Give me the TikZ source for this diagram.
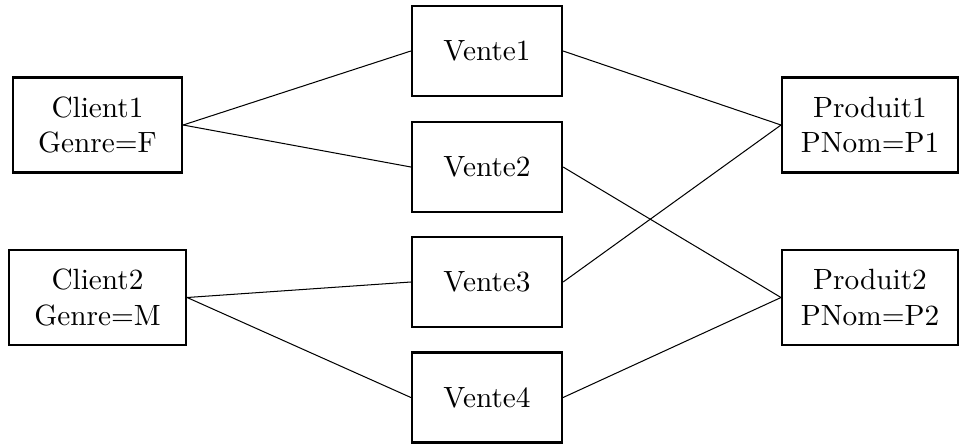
\documentclass[tikz,border=0pt]{standalone}
\usepackage{tikz}
\begin{document}
\begin{tikzpicture}[x=0.3413pt,y=-0.3413pt,
  box/.style={draw,line width=0.75pt,inner sep=0pt,align=center,font=\normalsize},
  cl/.style={box,minimum width=57.7pt,minimum height=32.4pt},
  ve/.style={box,minimum width=51.2pt,minimum height=30.7pt},
  pr/.style={box,minimum width=60pt,minimum height=32.4pt},
  link/.style={line width=0.35pt}]
\useasboundingbox (0,0) rectangle (961,445);
\node[cl,minimum width=57.7pt] (c1) at (97.5,125) {Client1\\Genre=F};
\node[cl,minimum width=60.4pt] (c2) at (97.5,297.5) {Client2\\Genre=M};
\node[ve] (v1) at (487,51) {Vente1};
\node[ve] (v2) at (487,167) {Vente2};
\node[ve] (v3) at (487,282) {Vente3};
\node[ve] (v4) at (487,397.5) {Vente4};
\node[pr] (p1) at (870,125) {Produit1\\PNom=P1};
\node[pr] (p2) at (870,297.5) {Produit2\\PNom=P2};
\draw[link] (c1.east) -- (v1.west);
\draw[link] (c1.east) -- (v2.west);
\draw[link] (c2.east) -- (v3.west);
\draw[link] (c2.east) -- (v4.west);
\draw[link] (v1.east) -- (p1.west);
\draw[link] (v3.east) -- (p1.west);
\draw[link] (v2.east) -- (p2.west);
\draw[link] (v4.east) -- (p2.west);
\end{tikzpicture}
\end{document}
